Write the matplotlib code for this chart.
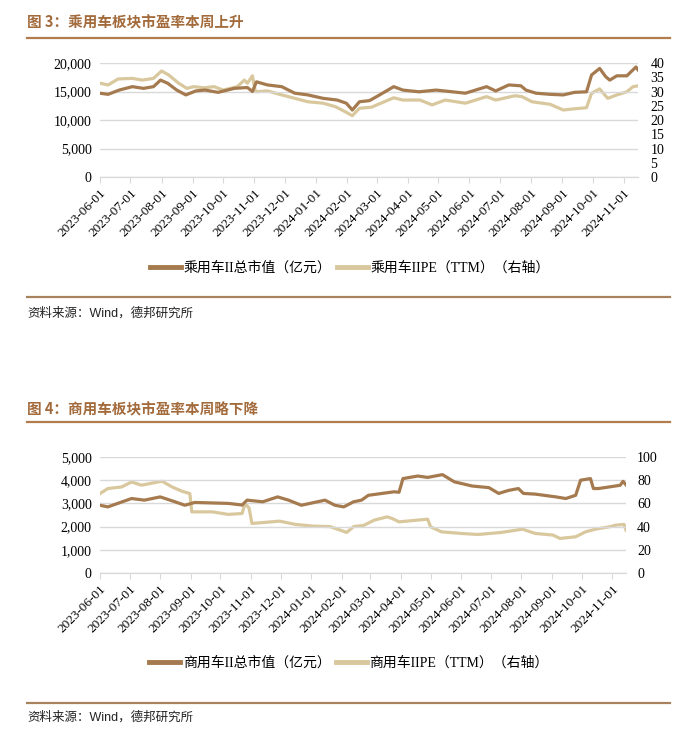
import pandas as pd
import matplotlib
matplotlib.use("Agg")
import matplotlib.pyplot as plt
import matplotlib.dates as mdates
from matplotlib.lines import Line2D
from matplotlib.ticker import FuncFormatter, MultipleLocator

# 乘用车 总市值（亿元）
car_cap_dates = ["2023-06-01", "2023-06-09", "2023-06-20", "2023-07-03", "2023-07-14", "2023-07-24",
                 "2023-07-31", "2023-08-07", "2023-08-16", "2023-08-25", "2023-09-04", "2023-09-13",
                 "2023-09-26", "2023-10-12", "2023-10-25", "2023-10-30", "2023-11-03", "2023-11-14",
                 "2023-11-28", "2023-12-11", "2023-12-24", "2024-01-08", "2024-01-22", "2024-01-31",
                 "2024-02-06", "2024-02-13", "2024-02-23", "2024-03-04", "2024-03-18", "2024-03-27",
                 "2024-04-12", "2024-04-29", "2024-05-15", "2024-05-28", "2024-06-18", "2024-06-27",
                 "2024-07-10", "2024-07-22", "2024-07-27", "2024-08-06", "2024-08-20", "2024-09-02",
                 "2024-09-13", "2024-09-25", "2024-09-30", "2024-10-08", "2024-10-14", "2024-10-18",
                 "2024-10-25", "2024-11-04", "2024-11-08", "2024-11-13", "2024-11-15"]
car_cap = [14700, 14500, 15250, 15850, 15550, 15850, 17000, 16450, 15250, 14400, 15100, 15250,
           14850, 15550, 15700, 15000, 16700, 16150, 15850, 14700, 14400, 13800, 13500, 12950,
           11750, 13200, 13400, 14400, 15850, 15250, 14950, 15250, 14950, 14700, 15850, 15100,
           16150, 16000, 15250, 14700, 14500, 14400, 14850, 14950, 17900, 19050, 17600, 17000,
           17750, 17750, 18450, 19300, 18800]

# 乘用车 PE（TTM）
car_pe_dates = ["2023-06-01", "2023-06-09", "2023-06-19", "2023-07-03", "2023-07-13", "2023-07-24",
                "2023-08-01", "2023-08-08", "2023-08-18", "2023-08-26", "2023-09-02", "2023-09-12",
                "2023-09-22", "2023-10-01", "2023-10-15", "2023-10-22", "2023-10-25", "2023-10-30",
                "2023-11-02", "2023-11-14", "2023-11-28", "2023-12-11", "2023-12-24", "2024-01-08",
                "2024-01-20", "2024-01-30", "2024-02-06", "2024-02-13", "2024-02-25", "2024-03-18",
                "2024-03-27", "2024-04-13", "2024-04-25", "2024-05-08", "2024-05-28", "2024-06-18",
                "2024-06-27", "2024-07-16", "2024-07-23", "2024-08-02", "2024-08-20", "2024-09-02",
                "2024-09-12", "2024-09-25", "2024-09-30", "2024-10-08", "2024-10-16", "2024-10-25",
                "2024-11-04", "2024-11-10", "2024-11-15"]
car_pe = [32.9, 32.3, 34.4, 34.6, 34.0, 34.6, 37.2, 35.8, 32.9, 31.1, 31.7, 31.3,
          31.7, 30.5, 31.7, 34.0, 32.9, 35.5, 29.9, 30.2, 28.8, 27.6, 26.4, 25.9,
          24.7, 22.9, 21.5, 24.1, 24.5, 27.8, 27.0, 27.0, 25.3, 27.0, 25.9, 28.2,
          27.0, 28.5, 28.2, 26.4, 25.5, 23.5, 23.9, 24.3, 29.4, 30.9, 27.6, 28.8,
          29.9, 31.7, 32.0]

# 商用车 总市值（亿元）
bus_cap_dates = ["2023-06-01", "2023-06-09", "2023-06-19", "2023-07-03", "2023-07-16", "2023-08-01",
                 "2023-08-16", "2023-08-26", "2023-09-05", "2023-10-09", "2023-10-23", "2023-10-28",
                 "2023-11-13", "2023-11-28", "2023-12-09", "2023-12-22", "2024-01-15", "2024-01-25",
                 "2024-02-03", "2024-02-13", "2024-02-21", "2024-02-28", "2024-03-25", "2024-03-30",
                 "2024-04-03", "2024-04-18", "2024-04-28", "2024-05-13", "2024-05-25", "2024-06-12",
                 "2024-06-29", "2024-07-09", "2024-07-19", "2024-07-29", "2024-08-03", "2024-08-15",
                 "2024-09-05", "2024-09-15", "2024-09-25", "2024-09-30", "2024-10-10", "2024-10-13",
                 "2024-10-18", "2024-10-29", "2024-11-09", "2024-11-12", "2024-11-15"]
bus_cap = [2920, 2850, 3000, 3210, 3140, 3280, 3070, 2920, 3040, 3000, 2930, 3140,
           3070, 3280, 3140, 2920, 3140, 2920, 2850, 3070, 3140, 3350, 3500, 3480,
           4070, 4180, 4120, 4240, 3930, 3750, 3680, 3430, 3560, 3640, 3430, 3400,
           3280, 3210, 3350, 4000, 4070, 3640, 3640, 3710, 3780, 3950, 3800]

# 商用车 PE（TTM）
bus_pe_dates = ["2023-06-01", "2023-06-09", "2023-06-23", "2023-07-03", "2023-07-13", "2023-07-30",
                "2023-08-03", "2023-08-13", "2023-08-23", "2023-08-31", "2023-09-02", "2023-09-23",
                "2023-10-09", "2023-10-23", "2023-10-26", "2023-10-30", "2023-11-02", "2023-11-30",
                "2023-12-16", "2024-01-03", "2024-01-20", "2024-02-06", "2024-02-13", "2024-02-23",
                "2024-03-05", "2024-03-18", "2024-03-23", "2024-03-30", "2024-04-18", "2024-04-28",
                "2024-05-01", "2024-05-12", "2024-06-01", "2024-06-18", "2024-07-12", "2024-08-02",
                "2024-08-15", "2024-09-02", "2024-09-09", "2024-09-25", "2024-10-05", "2024-10-15",
                "2024-10-29", "2024-11-05", "2024-11-13", "2024-11-15"]
bus_pe = [68.5, 72.8, 74.2, 78.5, 75.7, 78.5, 79.1, 74.2, 70.5, 68.5, 52.7, 52.7,
          50.5, 51.3, 60.0, 56.0, 42.7, 44.7, 41.9, 40.4, 40.0, 35.0, 40.0, 41.0,
          45.6, 48.4, 47.0, 44.1, 45.6, 46.4, 39.8, 35.5, 34.1, 33.2, 35.0, 37.8,
          34.1, 32.7, 29.8, 31.2, 35.5, 37.8, 39.8, 41.3, 41.9, 37.0]

W, H = 700, 733
BROWN = "#a57a4f"
LIGHT = "#d9c89d"
TITLE_C = "#a36b3c"
GRID_C = "#d9d9d9"
SERIF = ["Liberation Serif", "Noto Sans CJK SC"]
SANS = ["Liberation Sans", "Noto Sans CJK SC"]

fig = plt.figure(figsize=(W / 100, H / 100), dpi=100)


def px_rect(left, top, right, bottom):
    return [left / W, 1 - bottom / H, (right - left) / W, (bottom - top) / H]


def draw_panel(cfg):
    ax = fig.add_axes(px_rect(*cfg["rect"]))
    ax2 = ax.twinx()

    ax.plot(pd.to_datetime(cfg["cap_dates"]), cfg["cap"], color=BROWN, lw=2.3, zorder=3)
    ax2.plot(pd.to_datetime(cfg["pe_dates"]), cfg["pe"], color=LIGHT, lw=2.3, zorder=2)
    ax.set_zorder(ax2.get_zorder() + 1)
    ax.patch.set_visible(False)

    ax.set_xlim(pd.Timestamp("2023-06-01"), pd.Timestamp("2024-11-15"))
    ax.set_ylim(0, cfg["ymax"])
    ax2.set_ylim(0, cfg["y2max"])
    ax.yaxis.set_major_locator(MultipleLocator(cfg["ystep"]))
    ax2.yaxis.set_major_locator(MultipleLocator(cfg["y2step"]))
    ax.yaxis.set_major_formatter(FuncFormatter(lambda v, p: f"{v:,.0f}"))

    ax.grid(axis="y", color=GRID_C, lw=1)
    ax.set_axisbelow(True)
    for a in (ax, ax2):
        for s in ("top", "left", "right"):
            a.spines[s].set_visible(False)
        a.spines["bottom"].set_color(GRID_C)

    ax.xaxis.set_major_locator(mdates.MonthLocator())
    ax.xaxis.set_major_formatter(mdates.DateFormatter("%Y-%m-%d"))
    ax.tick_params(axis="x", length=4, color=GRID_C, pad=3)
    for lab in ax.get_xticklabels():
        lab.set_rotation(45)
        lab.set_ha("right")
        lab.set_va("top")
        lab.set_rotation_mode("anchor")
        lab.set_family(SERIF)
        lab.set_fontsize(9.5)
    ax.tick_params(axis="y", length=0, pad=6, labelsize=10)
    ax2.tick_params(axis="y", length=0, pad=cfg["pad2"], labelsize=10)
    for lab in ax.get_yticklabels() + ax2.get_yticklabels():
        lab.set_family(SERIF)

    # 标题和分割线
    fig.text(27 / W, 1 - cfg["title_y"] / H, cfg["title"], color=TITLE_C, fontsize=10.5,
             fontweight="bold", family=["Noto Sans CJK SC"], va="center")
    fig.add_artist(Line2D([27 / W, 670 / W], [1 - cfg["rule1"] / H] * 2, color="#b27c4c", lw=1.6))
    fig.add_artist(Line2D([27 / W, 670 / W], [1 - cfg["rule2"] / H] * 2, color="#a8825c", lw=1.6))
    fig.text(27 / W, 1 - cfg["src_y"] / H, "资料来源：Wind，德邦研究所", fontsize=9,
             family=SANS, va="center", color="#222222")

    handles = [Line2D([], [], color=BROWN, lw=3.5), Line2D([], [], color=LIGHT, lw=3.5)]
    fig.legend(handles, cfg["labels"], loc="center", bbox_to_anchor=(cfg["leg_x"] / W, 1 - cfg["leg_y"] / H),
               ncol=2, frameon=False, handlelength=2.2, handletextpad=0.2, columnspacing=0.4,
               prop={"family": SERIF, "size": 10})


draw_panel({
    "rect": (100, 63, 638, 177), "cap_dates": car_cap_dates, "cap": car_cap,
    "pe_dates": car_pe_dates, "pe": car_pe, "ymax": 20000, "ystep": 5000,
    "y2max": 40, "y2step": 5, "pad2": 9,
    "title": "图 3：乘用车板块市盈率本周上升", "title_y": 22, "rule1": 38, "rule2": 297, "src_y": 313,
    "labels": ["乘用车II总市值（亿元）", "乘用车IIPE（TTM）（右轴）"], "leg_x": 350, "leg_y": 268,
})

draw_panel({
    "rect": (100, 457, 626, 573), "cap_dates": bus_cap_dates, "cap": bus_cap,
    "pe_dates": bus_pe_dates, "pe": bus_pe, "ymax": 5000, "ystep": 1000,
    "y2max": 100, "y2step": 20, "pad2": 8,
    "title": "图 4：商用车板块市盈率本周略下降", "title_y": 409, "rule1": 422, "rule2": 703, "src_y": 717,
    "labels": ["商用车II总市值（亿元）", "商用车IIPE（TTM）（右轴）"], "leg_x": 349, "leg_y": 663,
})

fig.savefig("out.png", dpi=100)
plt.close(fig)
